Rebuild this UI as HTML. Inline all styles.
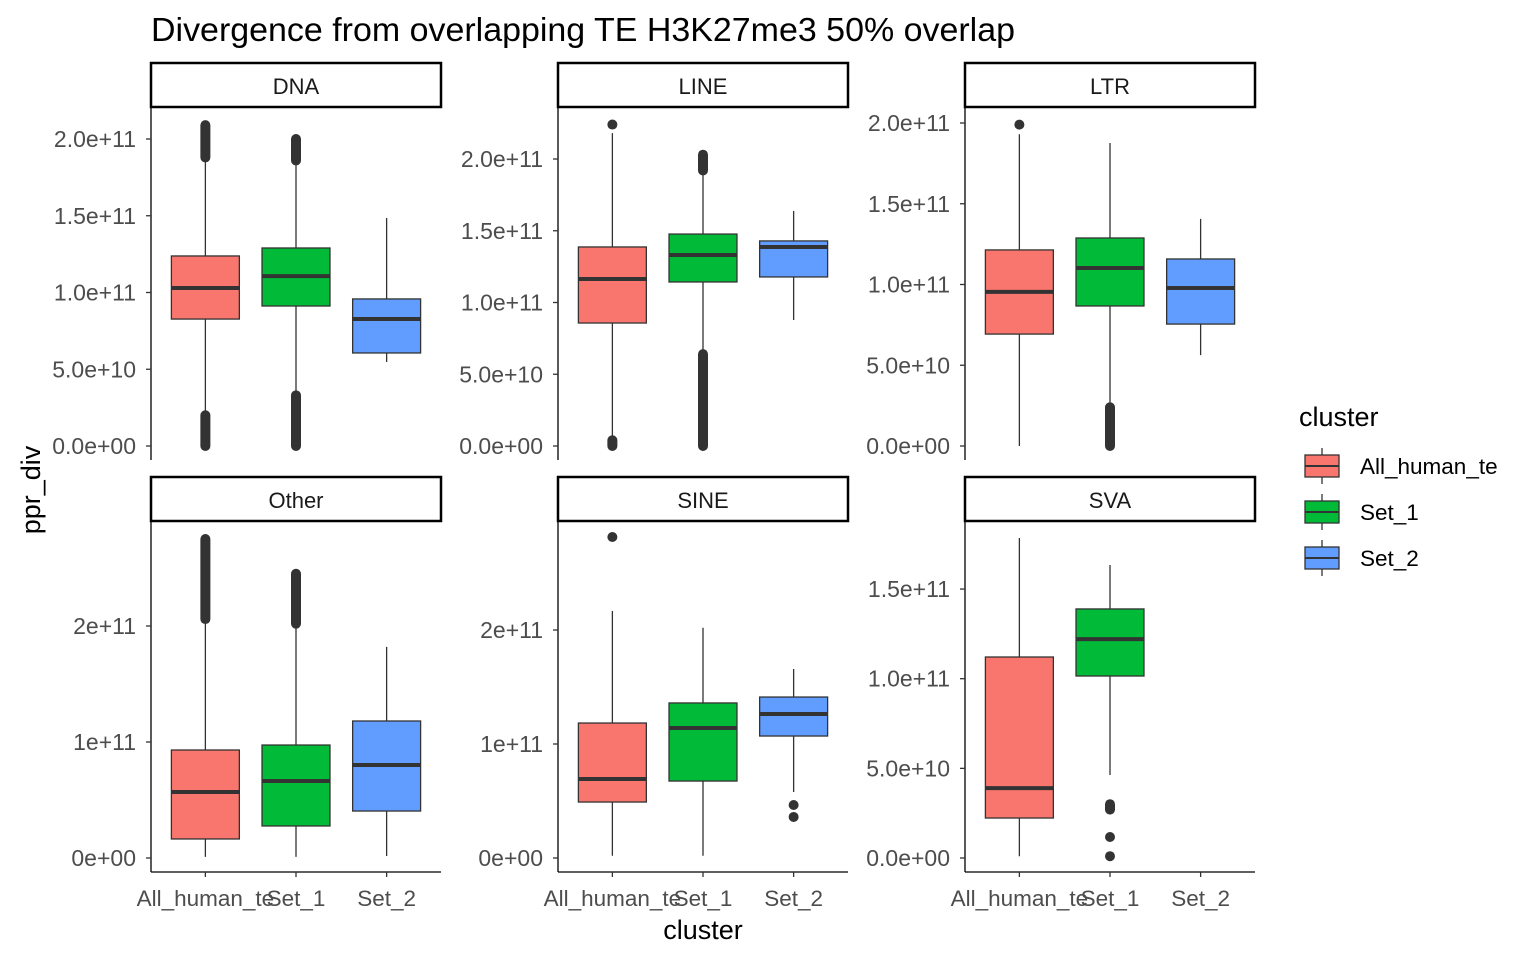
<!DOCTYPE html>
<html><head><meta charset="utf-8"><style>
body{margin:0;background:#fff}
svg{display:block;font-family:"Liberation Sans",Arial,sans-serif}
</style></head><body>
<svg id="chart" width="1536" height="960" viewBox="0 0 1536 960" xmlns="http://www.w3.org/2000/svg">
<rect width="1536" height="960" fill="#fff"/>
<text x="151" y="41" font-size="33" textLength="864" lengthAdjust="spacingAndGlyphs" fill="#000">Divergence from overlapping TE H3K27me3 50% overlap</text>
<text transform="translate(40,490) rotate(-90)" font-size="27" text-anchor="middle" fill="#000">ppr_div</text>
<text x="703" y="939" font-size="27" text-anchor="middle" fill="#000">cluster</text>
<g id="legend"></g>
<g id="panels"></g>
</svg>
<script>
const categories = ["All_human_te","Set_1","Set_2"];
const colors = ["#F8766D","#00BA38","#619CFF"];
const panelNames = ["DNA","LINE","LTR","Other","SINE","SVA"];
// per panel y-axis: value->pixel calibration  (value in units of 1e11)
const yZeroPx = [446,446,446,858,858,858];
const yPxPerUnit = [153.5,143.5,161.5,116,114,179.3];
const tickValues = [[0,0.5,1,1.5,2],[0,0.5,1,1.5,2],[0,0.5,1,1.5,2],[0,1,2],[0,1,2],[0,0.5,1,1.5]];
const tickLabels = [
 ["0.0e+00","5.0e+10","1.0e+11","1.5e+11","2.0e+11"],
 ["0.0e+00","5.0e+10","1.0e+11","1.5e+11","2.0e+11"],
 ["0.0e+00","5.0e+10","1.0e+11","1.5e+11","2.0e+11"],
 ["0e+00","1e+11","2e+11"],
 ["0e+00","1e+11","2e+11"],
 ["0.0e+00","5.0e+10","1.0e+11","1.5e+11"]];
// stats [lowWhisker, q1, median, q3, highWhisker] per panel per category (null = no data)
const stats = [
 [[0.23,0.827,1.029,1.238,1.86],[0.36,0.912,1.107,1.29,1.83],[0.547,0.606,0.827,0.958,1.485]],
 [[0.06,0.857,1.164,1.387,2.18],[0.67,1.143,1.331,1.477,1.92],[0.878,1.178,1.387,1.429,1.638]],
 [[0.0,0.693,0.954,1.214,1.93],[0.254,0.867,1.102,1.288,1.876],[0.563,0.755,0.978,1.158,1.406]],
 [[0.01,0.164,0.569,0.931,2.05],[0.01,0.276,0.664,0.974,2.0],[0.017,0.405,0.802,1.181,1.82]],
 [[0.02,0.491,0.693,1.184,2.167],[0.02,0.675,1.14,1.36,2.02],[0.579,1.07,1.263,1.412,1.658]],
 [[0.01,0.223,0.39,1.121,1.785],[0.463,1.015,1.221,1.389,1.634],null]];
// dense outlier runs [from,to]
const outlierRanges = [
 [[[1.88,2.09],[0,0.2]],[[1.86,2.0],[0,0.33]],[]],
 [[[0,0.04]],[[1.92,2.03],[0,0.64]],[]],
 [[],[[0,0.24]],[]],
 [[[2.06,2.75]],[[2.02,2.45]],[]],
 [[],[],[]],
 [[],[[0.27,0.3]],[]]];
const outlierPoints = [
 [[],[],[]],
 [[2.24],[],[]],
 [[1.99],[],[]],
 [[],[],[]],
 [[2.816],[],[0.465,0.36]],
 [[],[0.117,0.01],[]]];

const NS="http://www.w3.org/2000/svg";
const root=document.getElementById('panels');
function mk(tag,attrs,parent){const e=document.createElementNS(NS,tag);for(const k in attrs)e.setAttribute(k,attrs[k]);parent.appendChild(e);return e;}
const colX=[151,558,965], panelW=290;
const rowStrip=[63,477], rowTop=[107,520], rowBot=[460,872];
panelNames.forEach((name,p)=>{
  const c=p%3, r=Math.floor(p/3), x0=colX[c];
  const g=mk('g',{},root);
  
  
  const yS=v=>yZeroPx[p]-v*yPxPerUnit[p];
  const xS=i=>x0+(0.6+i)*panelW/3.2;
  const bw=0.75*panelW/3.2;
  const strip=mk('rect',{x:x0,y:rowStrip[r],width:panelW,height:44,fill:'#fff',stroke:'#000','stroke-width':2.5},g);
  
  
  const st=mk('text',{x:x0+panelW/2,y:rowStrip[r]+31,'font-size':22,'text-anchor':'middle',fill:'#1a1a1a'},g);
  st.textContent=name;
  
  
  const ax=mk('line',{x1:x0,y1:rowTop[r],x2:x0,y2:rowBot[r],stroke:'#000','stroke-width':1.3},g);
  
  
  tickValues[p].forEach((v,i)=>{
    const y=yS(v);
    const tk=mk('line',{x1:x0-5,y1:y,x2:x0,y2:y,stroke:'#333','stroke-width':1.3},g);
    
    
    const tl=mk('text',{x:x0-15,y:y+8,'font-size':23,'text-anchor':'end',fill:'#4d4d4d'},g);
    tl.textContent=tickLabels[p][i];
    
    
  });
  if(r===1){
    const xa=mk('line',{x1:x0,y1:872,x2:x0+panelW,y2:872,stroke:'#000','stroke-width':1.3},g);
    
    
    categories.forEach((cat,i)=>{
      const tk=mk('line',{x1:xS(i),y1:872,x2:xS(i),y2:877,stroke:'#333','stroke-width':1.3},g);
      
      
      const tl=mk('text',{x:xS(i),y:906,'font-size':22.5,'text-anchor':'middle',fill:'#4d4d4d'},g);
      tl.textContent=cat;
      
      
    });
  }
  categories.forEach((cat,i)=>{
    const s=stats[p][i]; if(!s) return;
    const cx=xS(i);
    const bg=mk('g',{},g);
    
    
    mk('line',{x1:cx,y1:yS(s[0]),x2:cx,y2:yS(s[4]),stroke:'#333','stroke-width':1.3},bg);
    mk('rect',{x:cx-bw/2,y:yS(s[3]),width:bw,height:yS(s[1])-yS(s[3]),fill:colors[i],stroke:'#333','stroke-width':1.3},bg);
    mk('line',{x1:cx-bw/2,y1:yS(s[2]),x2:cx+bw/2,y2:yS(s[2]),stroke:'#333','stroke-width':4},bg);
    outlierRanges[p][i].forEach(rg=>{
      const o=mk('line',{x1:cx,y1:yS(rg[0]),x2:cx,y2:yS(rg[1]),stroke:'#333','stroke-width':10,'stroke-linecap':'round'},bg);
      
      
    });
    outlierPoints[p][i].forEach(v=>{
      const o=mk('circle',{cx:cx,cy:yS(v),r:5,fill:'#333'},bg);
      
      
    });
  });
});
const lg=document.getElementById('legend');
const lt=mk('text',{x:1299,y:426,'font-size':27,fill:'#000'},lg);
lt.textContent='cluster';


categories.forEach((cat,i)=>{
  const y=466+i*46;
  const e=mk('g',{},lg);
  
  
  mk('line',{x1:1322,y1:y-18,x2:1322,y2:y+18,stroke:'#333','stroke-width':1.3},e);
  mk('rect',{x:1305,y:y-11,width:34,height:22,fill:colors[i],stroke:'#333','stroke-width':1.3},e);
  mk('line',{x1:1305,y1:y,x2:1339,y2:y,stroke:'#333','stroke-width':2},e);
  const t=mk('text',{x:1360,y:y+8,'font-size':22.5,fill:'#000'},e);
  t.textContent=cat;
});
</script>
</body></html>
